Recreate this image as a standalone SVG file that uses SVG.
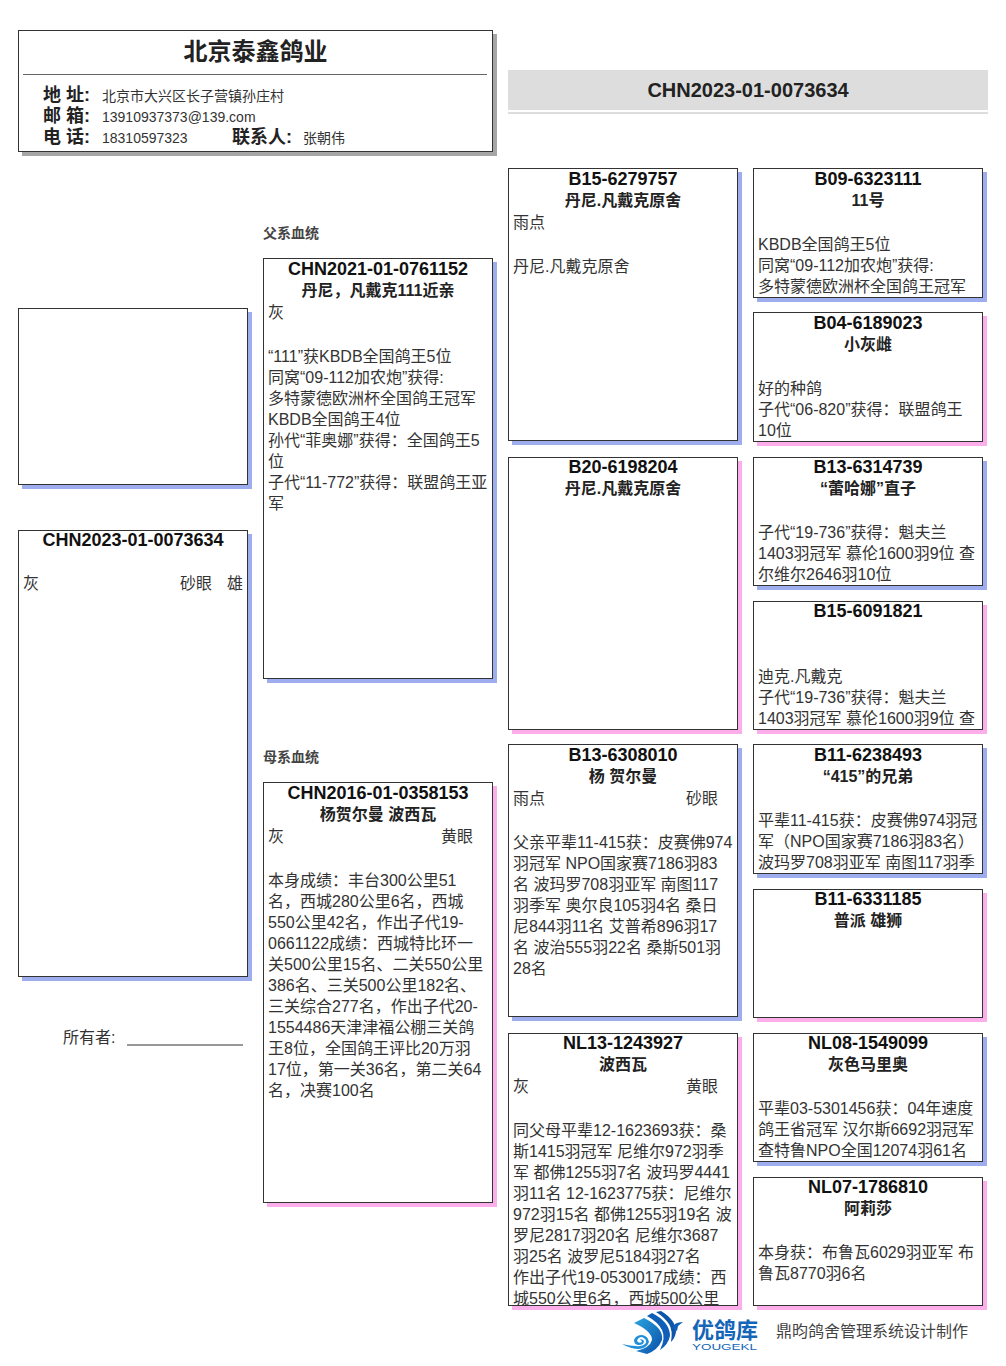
<svg xmlns="http://www.w3.org/2000/svg" width="1006" height="1366" viewBox="0 0 1006 1366">
<defs><linearGradient id="lg" x1="0" y1="0" x2="1" y2="1"><stop offset="0" stop-color="#2aa5e0"/><stop offset="1" stop-color="#0b4fa8"/></linearGradient></defs>
<style>
text{font-family:"Liberation Sans","Noto Sans CJK SC",sans-serif;fill:#222}
.box{fill:#fff;stroke:#333;stroke-width:1}
.sb{fill:#9dadee}.sp{fill:#fbaeea}.sg{fill:#a6a6a6}
.t{font-size:18px;font-weight:700;text-anchor:middle;fill:#111}
.n{font-size:16px;font-weight:700;text-anchor:middle;fill:#222}
.b{font-size:16px;fill:#333}
.l{font-size:18px;font-weight:700;fill:#222}
.v{font-size:14px;fill:#333}
.s{font-size:14px;font-weight:700;fill:#444}
</style>
<g id="header">
<rect class="sg" x="22" y="34" width="475" height="122"/>
<rect class="box" x="18.500" y="30.500" width="474" height="121"/>
<line x1="23" y1="74.500" x2="487" y2="74.500" stroke="#666"/>
<text x="255.500" y="60" font-size="24" font-weight="700" text-anchor="middle" fill="#111">北京泰鑫鸽业</text>
<text class="l" x="43" y="101">地 址:</text><text class="v" x="102" y="101">北京市大兴区长子营镇孙庄村</text>
<text class="l" x="43" y="122">邮 箱:</text><text class="v" x="102" y="122">13910937373@139.com</text>
<text class="l" x="43" y="143">电 话:</text><text class="v" x="102" y="143">18310597323</text>
<text class="l" x="232" y="143">联系人:</text><text class="v" x="303" y="143">张朝伟</text>
</g>
<g id="title">
<rect x="508" y="70" width="480" height="40" fill="#ddd"/>
<rect x="508" y="112" width="480" height="2" fill="#ddd"/>
<text x="748" y="97" font-size="20" font-weight="700" text-anchor="middle" fill="#222">CHN2023-01-0073634</text>
</g>
<g id="photo"><rect class="sb" x="22" y="312" width="230" height="177"/><rect class="box" x="18.500" y="308.500" width="229" height="176"/></g>
<g id="self"><rect class="sb" x="22" y="534" width="230" height="447"/><rect class="box" x="18.500" y="530.500" width="229" height="446"/>
<text class="t" x="133" y="546">CHN2023-01-0073634</text>
<text class="b" x="23" y="589">灰</text><text class="b" x="180" y="589">砂眼</text><text class="b" x="227" y="589">雄</text></g>
<g id="owner"><text class="b" x="63" y="1043">所有者:</text><line x1="127" y1="1045" x2="243" y2="1045" stroke="#333"/></g>
<text class="s" x="263" y="238">父系血统</text>
<text class="s" x="263" y="762">母系血统</text>
<g id="sire"><rect class="sb" x="267" y="262" width="230" height="421"/><rect class="box" x="263.500" y="258.500" width="229" height="420"/>
<text class="t" x="378" y="275">CHN2021-01-0761152</text><text class="n" x="378" y="296">丹尼，凡戴克111近亲</text>
<text class="b" x="268" y="318">灰</text>
<text class="b" x="268" y="362">“111”获KBDB全国鸽王5位</text><text class="b" x="268" y="383">同窝“09-112加农炮”获得:</text><text class="b" x="268" y="404">多特蒙德欧洲杯全国鸽王冠军</text><text class="b" x="268" y="425">KBDB全国鸽王4位</text><text class="b" x="268" y="446">孙代“菲奥娜”获得：全国鸽王5</text><text class="b" x="268" y="467">位</text><text class="b" x="268" y="488">子代“11-772”获得：联盟鸽王亚</text><text class="b" x="268" y="509">军</text></g>
<g id="dam"><rect class="sp" x="267" y="786" width="230" height="421"/><rect class="box" x="263.500" y="782.500" width="229" height="420"/>
<text class="t" x="378" y="799">CHN2016-01-0358153</text><text class="n" x="378" y="820">杨贺尔曼 波西瓦</text>
<text class="b" x="268" y="842">灰</text><text class="b" x="441" y="842">黄眼</text>
<text class="b" x="268" y="886">本身成绩：丰台300公里51</text><text class="b" x="268" y="907">名，西城280公里6名，西城</text><text class="b" x="268" y="928">550公里42名，作出子代19-</text><text class="b" x="268" y="949">0661122成绩：西城特比环一</text><text class="b" x="268" y="970">关500公里15名、二关550公里</text><text class="b" x="268" y="991">386名、三关500公里182名、</text><text class="b" x="268" y="1012">三关综合277名，作出子代20-</text><text class="b" x="268" y="1033">1554486天津津福公棚三关鸽</text><text class="b" x="268" y="1054">王8位，全国鸽王评比20万羽</text><text class="b" x="268" y="1075">17位，第一关36名，第二关64</text><text class="b" x="268" y="1096">名，决赛100名</text></g>
<g id="p1"><rect class="sb" x="512" y="172" width="230" height="273"/><rect class="box" x="508.500" y="168.500" width="229" height="272"/>
<text class="t" x="623" y="185">B15-6279757</text><text class="n" x="623" y="206">丹尼.凡戴克原舍</text><text class="b" x="513" y="228">雨点</text><text class="b" x="513" y="272">丹尼.凡戴克原舍</text></g>
<g id="p2"><rect class="sp" x="512" y="461" width="230" height="273"/><rect class="box" x="508.500" y="457.500" width="229" height="272"/>
<text class="t" x="623" y="473">B20-6198204</text><text class="n" x="623" y="494">丹尼.凡戴克原舍</text></g>
<g id="p3"><rect class="sb" x="512" y="748" width="230" height="273"/><rect class="box" x="508.500" y="744.500" width="229" height="272"/>
<text class="t" x="623" y="761">B13-6308010</text><text class="n" x="623" y="782">杨 贺尔曼</text><text class="b" x="513" y="804">雨点</text><text class="b" x="686" y="804">砂眼</text>
<text class="b" x="513" y="848">父亲平辈11-415获：皮赛佛974</text><text class="b" x="513" y="869">羽冠军 NPO国家赛7186羽83</text><text class="b" x="513" y="890">名 波玛罗708羽亚军 南图117</text><text class="b" x="513" y="911">羽季军 奥尔良105羽4名 桑日</text><text class="b" x="513" y="932">尼844羽11名 艾普希896羽17</text><text class="b" x="513" y="953">名 波治555羽22名 桑斯501羽</text><text class="b" x="513" y="974">28名</text></g>
<g id="p4"><rect class="sp" x="512" y="1037" width="230" height="273"/><rect class="box" x="508.500" y="1033.500" width="229" height="272"/>
<text class="t" x="623" y="1049">NL13-1243927</text><text class="n" x="623" y="1070">波西瓦</text><text class="b" x="513" y="1092">灰</text><text class="b" x="686" y="1092">黄眼</text>
<text class="b" x="513" y="1136">同父母平辈12-1623693获：桑</text><text class="b" x="513" y="1157">斯1415羽冠军 尼维尔972羽季</text><text class="b" x="513" y="1178">军 都佛1255羽7名 波玛罗4441</text><text class="b" x="513" y="1199">羽11名 12-1623775获：尼维尔</text><text class="b" x="513" y="1220">972羽15名 都佛1255羽19名 波</text><text class="b" x="513" y="1241">罗尼2817羽20名 尼维尔3687</text><text class="b" x="513" y="1262">羽25名 波罗尼5184羽27名</text><text class="b" x="513" y="1283">作出子代19-0530017成绩：西</text><text class="b" x="513" y="1304">城550公里6名，西城500公里</text></g>
<g id="g1"><rect class="sb" x="757" y="172" width="230" height="130"/><rect class="box" x="753.500" y="168.500" width="229" height="129"/>
<text class="t" x="868" y="185">B09-6323111</text><text class="n" x="868" y="206">11号</text><text class="b" x="758" y="250">KBDB全国鸽王5位</text><text class="b" x="758" y="271">同窝“09-112加农炮”获得:</text><text class="b" x="758" y="292">多特蒙德欧洲杯全国鸽王冠军</text></g>
<g id="g2"><rect class="sp" x="757" y="316" width="230" height="130"/><rect class="box" x="753.500" y="312.500" width="229" height="129"/>
<text class="t" x="868" y="329">B04-6189023</text><text class="n" x="868" y="350">小灰雌</text><text class="b" x="758" y="394">好的种鸽</text><text class="b" x="758" y="415">子代“06-820”获得：联盟鸽王</text><text class="b" x="758" y="436">10位</text></g>
<g id="g3"><rect class="sb" x="757" y="461" width="230" height="129"/><rect class="box" x="753.500" y="457.500" width="229" height="128"/>
<text class="t" x="868" y="473">B13-6314739</text><text class="n" x="868" y="494">“蕾哈娜”直子</text><text class="b" x="758" y="538">子代“19-736”获得：魁夫兰</text><text class="b" x="758" y="559">1403羽冠军 慕伦1600羽9位 查</text><text class="b" x="758" y="580">尔维尔2646羽10位</text></g>
<g id="g4"><rect class="sp" x="757" y="605" width="230" height="129"/><rect class="box" x="753.500" y="601.500" width="229" height="128"/>
<text class="t" x="868" y="617">B15-6091821</text><text class="b" x="758" y="682">迪克.凡戴克</text><text class="b" x="758" y="703">子代“19-736”获得：魁夫兰</text><text class="b" x="758" y="724">1403羽冠军 慕伦1600羽9位 查</text></g>
<g id="g5"><rect class="sb" x="757" y="748" width="230" height="130"/><rect class="box" x="753.500" y="744.500" width="229" height="129"/>
<text class="t" x="868" y="761">B11-6238493</text><text class="n" x="868" y="782">“415”的兄弟</text><text class="b" x="758" y="826">平辈11-415获：皮赛佛974羽冠</text><text class="b" x="758" y="847">军（NPO国家赛7186羽83名）</text><text class="b" x="758" y="868">波玛罗708羽亚军 南图117羽季</text></g>
<g id="g6"><rect class="sp" x="757" y="893" width="230" height="129"/><rect class="box" x="753.500" y="889.500" width="229" height="128"/>
<text class="t" x="868" y="905">B11-6331185</text><text class="n" x="868" y="926">普派 雄狮</text></g>
<g id="g7"><rect class="sb" x="757" y="1037" width="230" height="129"/><rect class="box" x="753.500" y="1033.500" width="229" height="128"/>
<text class="t" x="868" y="1049">NL08-1549099</text><text class="n" x="868" y="1070">灰色马里奥</text><text class="b" x="758" y="1114">平辈03-5301456获：04年速度</text><text class="b" x="758" y="1135">鸽王省冠军 汉尔斯6692羽冠军</text><text class="b" x="758" y="1156">查特鲁NPO全国12074羽61名</text></g>
<g id="g8"><rect class="sp" x="757" y="1181" width="230" height="129"/><rect class="box" x="753.500" y="1177.500" width="229" height="128"/>
<text class="t" x="868" y="1193">NL07-1786810</text><text class="n" x="868" y="1214">阿莉莎</text><text class="b" x="758" y="1258">本身获：布鲁瓦6029羽亚军 布</text><text class="b" x="758" y="1279">鲁瓦8770羽6名</text></g>
<g id="logo">
<path d="M622 1344Q631 1349 639 1349Q647 1348 649 1342Q648 1336 642 1335Q636 1335 634 1340Q634 1345 639 1345Q644 1345 644 1341Q642 1338 639 1340Q641 1339 642 1342Q639 1344 637 1341Q638 1337 642 1337Q647 1339 646 1343Q642 1347 636 1346Q630 1346 622 1344Z" fill="#1e8fd8"/>
<path d="M634 1323L644 1318Q664 1328 662 1340Q658 1350 647 1354L636 1351Q650 1348 652 1340Q652 1331 634 1323Z" fill="url(#lg)"/>
<path d="M647 1316L652 1313Q670 1322 670 1336Q668 1345 660 1350Q666 1338 662 1330Q658 1322 647 1316Z" fill="#0f5fb8"/>
<path d="M656 1312L661 1311Q676 1320 676 1332Q675 1338 671 1342Q673 1330 669 1324Q664 1317 656 1312Z" fill="#0d55a8"/>
<path d="M672 1328Q674 1322 683 1322L678 1326L677 1331Z" fill="#0f5fb8"/>
<text x="692" y="1338" font-size="22" font-weight="700" style="fill:#1565b8">优鸽库</text>
<text x="692" y="1350" font-size="8.500" textLength="65" lengthAdjust="spacingAndGlyphs" style="fill:#1565b8">YOUGEKL</text>
</g>
<text x="776" y="1337" font-size="16" style="fill:#444">鼎昀鸽舍管理系统设计制作</text>
</svg>
